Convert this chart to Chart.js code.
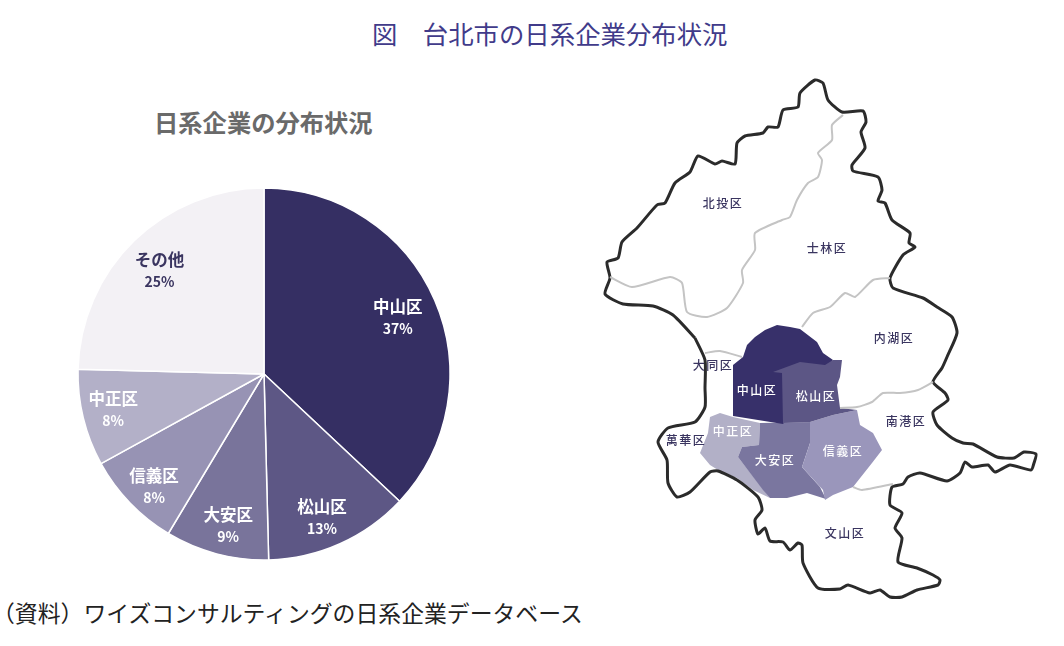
<!DOCTYPE html>
<html lang="ja">
<head>
<meta charset="utf-8">
<title>台北市の日系企業分布状況</title>
<script src="https://cdn.jsdelivr.net/npm/chart.js@4"></script>
<style>
    html, body { margin: 0; padding: 0; background: #fff; }
    body { position: relative; width: 1064px; height: 646px; overflow: hidden; font-family: "Noto Sans CJK JP", sans-serif; }
    canvas { position: absolute; }
    #pieChart { left: 64px; top: 174px; }
    #mapChart { left: 600px; top: 70px; }
    .text { position: absolute; white-space: nowrap; line-height: 1; }
    #figTitle { left: 372px; top: 21px; font-size: 25.4px; color: #413b8a; }
    #pieTitle { left: 154px; top: 110px; font-size: 24.3px; font-weight: 700; color: #6a6a6a; }
    #source { left: -8px; top: 601px; font-size: 22.85px; color: #222; }
</style>
</head>
<body>
<div class="text" id="figTitle">図　台北市の日系企業分布状況</div>
<div class="text" id="pieTitle">日系企業の分布状況</div>
<canvas id="pieChart" width="400" height="400"></canvas>
<canvas id="mapChart" width="450" height="540"></canvas>
<div class="text" id="source">（資料）ワイズコンサルティングの日系企業データベース</div>

<script>
// Pie data
const wards = ['中山区', '松山区', '大安区', '信義区', '中正区', 'その他'];
const shares = [37, 12.6, 9, 8.4, 8.4, 24.6];
const pieColors = ['#352f63', '#5d5785', '#79749b', '#9793b4', '#b3b0c8', '#f3f1f5'];
const pieLabelColors = ['#fff', '#fff', '#fff', '#fff', '#fff', '#3a3560'];
const pieLabelRadius = [0.79, 0.83, 0.84, 0.85, 0.84, 0.79];
const pieLabelShiftX = [-1, -5, 4, 4, 1, -2];
const pieLabelShiftY = [2, 2.5, 1, 3.5, -1, 2];

// Map outlines, in picture coordinates
const outerBorder = [
    [695,338],[673,315],[653,306],[623,304],[605,294],[610,278],[607,262],[618,258],[622,242],[637,228],
    [657,205],[665,203],[675,183],[690,172],[698,156],[715,164],[722,161],[735,164],[737,143],[745,136],
    [763,133],[768,127],[778,127],[783,110],[798,107],[800,93],[815,80],[823,83],[828,100],[842,112],
    [863,111],[866,122],[861,132],[865,148],[852,165],[853,171],[878,177],[882,190],[878,201],[885,203],
    [892,220],[910,233],[909,243],[915,247],[903,255],[890,278],[893,288],[923,298],[937,307],[952,317],
    [957,333],[947,357],[942,368],[933,382],[945,393],[948,400],[933,412],[937,425],[952,438],[963,443],
    [973,444],[997,457],[1014,458],[1024,452],[1036,454],[1034,463],[1031,470],[1010,465],[995,472],[988,465],
    [972,467],[965,462],[960,473],[947,481],[920,473],[908,477],[903,484],[892,487],[890,505],[902,513],
    [895,528],[902,538],[898,562],[917,568],[933,575],[940,580],[938,585],[917,590],[902,597],[890,597],
    [880,590],[870,593],[848,585],[840,589],[818,588],[803,563],[802,545],[798,543],[790,550],[783,542],
    [770,541],[765,528],[758,534],[755,520],[762,510],[758,497],[737,480],[718,471],[710,472],[690,492],
    [677,497],[668,483],[667,460],[658,442],[668,428],[695,422],[705,407],[705,388],[705,360],[695,338]
];
const beitouLine = [
    [610,277],[632,287],[670,277],[682,283],[687,312],[707,317],[727,308],[743,283],[742,270],[755,250],
    [755,233],[782,220],[790,217],[797,200],[808,183],[818,177],[822,160],[818,153],[832,140],[832,125],[843,115]
];
const neihuLine = [[890,278],[873,280],[855,297],[845,293],[830,307],[813,313],[802,327]];
const datongLine = [[705,353],[720,351],[742,357]];
const nangangLine = [[840,408],[857,407],[872,402],[883,393],[900,393],[918,390],[933,382]];
const wenshanLine = [[853,487],[862,490],[893,484]];

const zhongshanArea = [
    [733,365],[743,357],[747,345],[755,337],[765,330],[777,325],[790,327],[800,329],[817,342],[823,353],
    [833,360],[825,370],[783,424],[733,416]
];
const songshanArea = [
    [773,372],[800,362],[825,365],[833,360],[842,360],[840,377],[837,385],[840,408],[857,410],[833,415],
    [810,422],[783,423],[782,373]
];
const zhongzhengArea = [
    [710,417],[720,413],[733,417],[760,423],[759,445],[742,447],[738,457],[770,498],[753,490],[737,478],
    [718,470],[710,465],[700,453],[708,433]
];
const daanArea = [
    [760,423],[813,422],[810,443],[802,467],[820,487],[826,499],[807,493],[787,498],[770,498],[763,490],
    [738,457],[742,447],[759,445]
];
const xinyiArea = [
    [810,422],[833,415],[857,410],[860,425],[873,433],[882,450],[872,463],[853,487],[833,495],[825,500],
    [823,490],[802,467],[810,443]
];
const mapAreaColors = ['#37306a', '#5c5685', '#b2b0c7', '#7a769f', '#9a96bb'];

const mapNames = ['北投区', '士林区', '内湖区', '大同区', '中山区', '松山区', '中正区', '大安区', '信義区', '南港区', '萬華区', '文山区'];
const mapNameX = [723, 827, 894, 713, 757, 816, 733, 775, 843, 906, 686, 845];
const mapNameY = [203, 248, 338, 365, 390, 396, 431, 460, 451, 421, 440, 533];
const mapNameColors = ['#3a3560', '#3a3560', '#3a3560', '#3a3560', '#fff', '#fff', '#fff', '#fff', '#fff', '#3a3560', '#3a3560', '#3a3560'];

const pieLabelPlugin = {
    id: 'pieLabels',
    afterDatasetsDraw(chart) {
        const ctx = chart.ctx;
        ctx.save();
        ctx.textAlign = 'center';
        ctx.textBaseline = 'middle';
        chart.getDatasetMeta(0).data.forEach((arc, i) => {
            const angle = (arc.startAngle + arc.endAngle) / 2;
            const r = arc.outerRadius * pieLabelRadius[i];
            const x = arc.x + Math.cos(angle) * r + pieLabelShiftX[i];
            const y = arc.y + Math.sin(angle) * r + pieLabelShiftY[i];
            ctx.fillStyle = pieLabelColors[i];
            ctx.font = '700 16.5px "Noto Sans CJK JP"';
            ctx.fillText(wards[i], x, y - 11);
            ctx.font = '700 14px "Noto Sans CJK JP"';
            ctx.fillText(Math.round(shares[i]) + '%', x, y + 11);
        });
        ctx.restore();
    }
};

// fills the closed district outlines, and writes the ward names on the map
const mapPlugin = {
    id: 'mapAreas',
    beforeDatasetsDraw(chart) {
        const ctx = chart.ctx;
        chart.data.datasets.forEach((ds, i) => {
            if (!ds.areaColor) return;
            const pts = chart.getDatasetMeta(i).data;
            ctx.beginPath();
            pts.forEach((p, j) => j ? ctx.lineTo(p.x, p.y) : ctx.moveTo(p.x, p.y));
            ctx.closePath();
            ctx.fillStyle = ds.areaColor;
            ctx.fill();
        });
    },
    afterDatasetsDraw(chart) {
        const ctx = chart.ctx;
        ctx.save();
        ctx.textAlign = 'center';
        ctx.textBaseline = 'middle';
        ctx.font = '500 12px "Noto Sans CJK JP"';
        ctx.letterSpacing = '1.5px';
        mapNames.forEach((name, i) => {
            ctx.fillStyle = mapNameColors[i];
            ctx.fillText(name, chart.scales.x.getPixelForValue(mapNameX[i]), chart.scales.y.getPixelForValue(mapNameY[i]));
        });
        ctx.restore();
    }
};

function toPoints(list) {
    return list.map(p => ({ x: p[0], y: p[1] }));
}

function lineSet(list, color, width) {
    return { data: toPoints(list), showLine: true, borderColor: color, borderWidth: width, pointRadius: 0, tension: 0.2 };
}

function areaSet(list, color) {
    return { data: toPoints(list), showLine: false, pointRadius: 0, areaColor: color };
}

new Chart(document.getElementById('pieChart'), {
    type: 'pie',
    data: {
        labels: wards,
        datasets: [{
            data: shares,
            backgroundColor: pieColors,
            borderColor: '#fff',
            borderWidth: 1.5,
            radius: 186
        }]
    },
    options: {
        responsive: false,
        animation: false,
        plugins: { legend: { display: false }, tooltip: { enabled: false } }
    },
    plugins: [pieLabelPlugin]
});

new Chart(document.getElementById('mapChart'), {
    type: 'scatter',
    data: {
        datasets: [
            lineSet(beitouLine, '#c4c4c4', 2),
            lineSet(neihuLine, '#c4c4c4', 2),
            lineSet(datongLine, '#c4c4c4', 2),
            lineSet(nangangLine, '#c4c4c4', 2),
            lineSet(wenshanLine, '#c4c4c4', 2),
            lineSet(outerBorder, '#2b2b2b', 3),
            areaSet(zhongzhengArea, mapAreaColors[2]),
            areaSet(daanArea, mapAreaColors[3]),
            areaSet(xinyiArea, mapAreaColors[4]),
            areaSet(zhongshanArea, mapAreaColors[0]),
            areaSet(songshanArea, mapAreaColors[1])
        ]
    },
    options: {
        responsive: false,
        animation: false,
        layout: { padding: 0 },
        scales: {
            x: { type: 'linear', display: false, min: 600, max: 1050 },
            y: { type: 'linear', display: false, min: 70, max: 610, reverse: true }
        },
        plugins: { legend: { display: false }, tooltip: { enabled: false } }
    },
    plugins: [mapPlugin]
});
</script>
</body>
</html>
